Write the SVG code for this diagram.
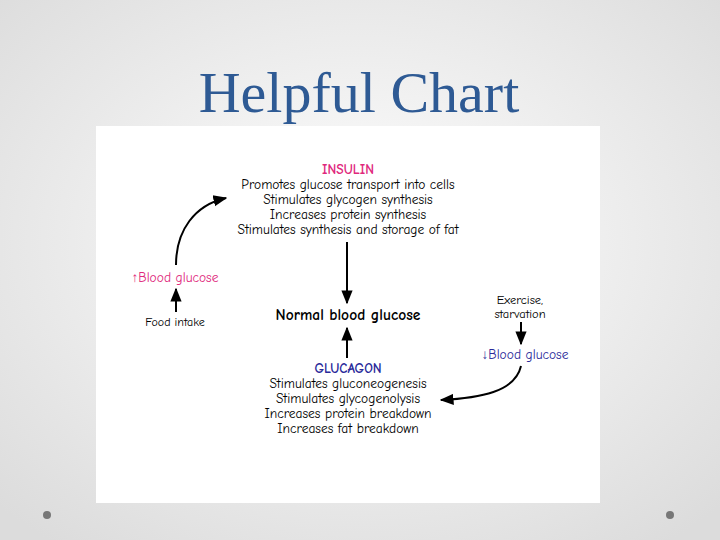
<svg xmlns="http://www.w3.org/2000/svg" width="720" height="540" viewBox="0 0 720 540">
<defs>
<radialGradient id="bg" cx="50%" cy="45%" r="70%"><stop offset="0" stop-color="#ffffff"/><stop offset="1" stop-color="#dcdcdc"/></radialGradient>
<marker id="ah" viewBox="0 0 10 10" refX="9" refY="5" markerWidth="7" markerHeight="7" orient="auto"><path d="M0,1 L10,5 L0,9 z" fill="#000"/></marker>
<style>
.t{font-family:"Comic Neue","Liberation Sans",sans-serif;font-size:13.5px;fill:#000;text-anchor:middle}
.c{stroke:#000;stroke-width:2;fill:none;marker-end:url(#ah)}
</style>
</defs>
<rect width="720" height="540" fill="url(#bg)"/>
<text x="359" y="112" font-family="Liberation Serif,serif" font-size="58" fill="#2e5a94" text-anchor="middle">Helpful Chart</text>
<circle cx="47" cy="515" r="4" fill="#777"/>
<circle cx="670" cy="515" r="4" fill="#777"/>
<rect x="96" y="126" width="504" height="377" fill="#fff"/>
<g id="insulin">
<text class="t" x="348" y="174" style="fill:#e0287c;font-weight:bold">INSULIN</text>
<text class="t" x="348" y="189">Promotes glucose transport into cells</text>
<text class="t" x="348" y="204">Stimulates glycogen synthesis</text>
<text class="t" x="348" y="219">Increases protein synthesis</text>
<text class="t" x="348" y="234">Stimulates synthesis and storage of fat</text>
</g>
<g id="high"><text class="t" x="175" y="282" style="fill:#e0287c">↑Blood glucose</text></g>
<g id="food"><text class="t" x="175" y="326" style="font-size:12px">Food intake</text></g>
<g id="normal"><text class="t" x="348" y="320" style="font-size:15.5px;font-weight:bold">Normal blood glucose</text></g>
<g id="exercise"><text class="t" x="520" y="304" style="font-size:12.5px">Exercise,</text><text class="t" x="520" y="318" style="font-size:12.5px">starvation</text></g>
<g id="low"><text class="t" x="525" y="359" style="fill:#2a2a9a">↓Blood glucose</text></g>
<g id="glucagon">
<text class="t" x="348" y="373" style="fill:#2a2a9a;font-weight:bold">GLUCAGON</text>
<text class="t" x="348" y="388">Stimulates gluconeogenesis</text>
<text class="t" x="348" y="403">Stimulates glycogenolysis</text>
<text class="t" x="348" y="418">Increases protein breakdown</text>
<text class="t" x="348" y="433">Increases fat breakdown</text>
</g>
<g id="connectors">
<path class="c" d="M347,242 L347,303"/>
<path class="c" d="M347,358 L347,328"/>
<path class="c" d="M176,265 C176,230 195,205 226,198"/>
<path class="c" d="M176,312 L176,289"/>
<path class="c" d="M521,322 L521,344"/>
<path class="c" d="M521,366 C515,392 480,398 441,400"/>
</g>
</svg>
